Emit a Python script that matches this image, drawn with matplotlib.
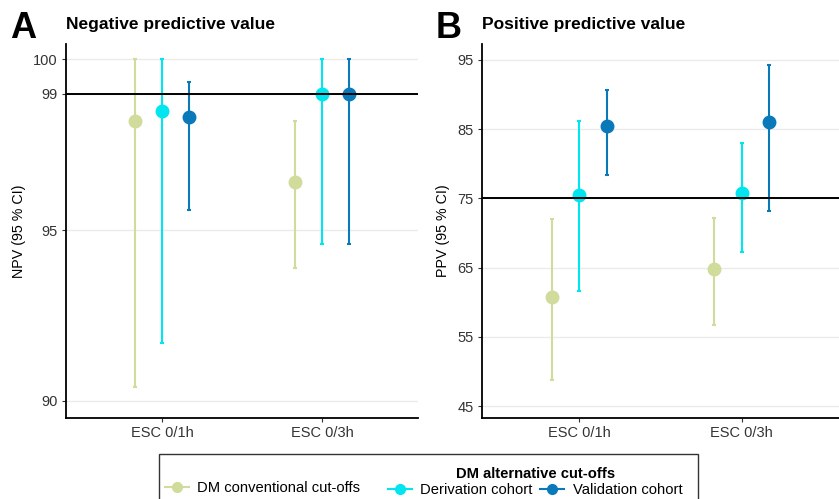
import numpy as np
import matplotlib
matplotlib.use("Agg")
import matplotlib.pyplot as plt
from matplotlib.lines import Line2D
from matplotlib.patches import Rectangle

plt.rcParams['font.family'] = ['Liberation Sans', 'DejaVu Sans']

# data
groups = ['ESC 0/1h', 'ESC 0/3h']
series = ['DM conventional cut-offs', 'Derivation cohort', 'Validation cohort']
colors = ['#cfdc9b', '#00e5f0', '#0a79ba']

npv_est = [[98.2, 96.4], [98.5, 99.0], [98.3, 99.0]]
npv_lo = [[90.4, 93.9], [91.7, 94.6], [95.6, 94.6]]
npv_hi = [[100.0, 98.2], [100.0, 100.0], [99.35, 100.0]]
npv_ticks = [90, 95, 99, 100]
npv_ref = 99

ppv_est = [[60.8, 64.8], [75.5, 75.8], [85.5, 86.1]]
ppv_lo = [[48.8, 56.8], [61.6, 67.2], [78.4, 73.2]]
ppv_hi = [[72.0, 72.2], [86.2, 83.0], [90.6, 94.2]]
ppv_ticks = [45, 55, 65, 75, 85, 95]
ppv_ref = 75

W, H = 839, 499
fig = plt.figure(figsize=(W / 100, H / 100), dpi=100)


def px(x0, y0, x1, y1):
    # pixel box -> figure fraction [left, bottom, width, height]
    return [x0 / W, 1 - y1 / H, (x1 - x0) / W, (y1 - y0) / H]


def panel(ax, est, lo, hi, ticks, ylim, ref, ylabel, title, letter, lx):
    xs = np.arange(1, len(groups) + 1)
    offs = [-0.17, 0.0, 0.17]
    for i in range(len(series)):
        e = np.array(est[i]); l = np.array(lo[i]); h = np.array(hi[i])
        ax.errorbar(xs + offs[i], e, yerr=[e - l, h - e], fmt='o', color=colors[i],
                    ms=9, elinewidth=1.5, capsize=1.6, capthick=1.5, zorder=3)
    ax.axhline(ref, color='black', lw=1.4, zorder=4)
    ax.set_xlim(0.4, 2.6)
    ax.set_ylim(*ylim)
    ax.set_xticks(xs)
    ax.set_xticklabels(groups)
    ax.set_yticks(ticks)
    ax.yaxis.grid(True, color='#ebebeb', lw=1.0)
    ax.set_axisbelow(True)
    for s in ['top', 'right']:
        ax.spines[s].set_visible(False)
    for s in ['left', 'bottom']:
        ax.spines[s].set_linewidth(1.3)
    ax.tick_params(labelsize=10.5, labelcolor='#333333', length=3, width=0.8,
                   color='#333333', pad=3)
    ax.set_ylabel(ylabel, fontsize=10.3, labelpad=5)
    ax.set_title(title, loc='left', fontsize=12.5, fontweight='bold', pad=11)
    fig.text(lx / W, 1 - 28 / H, letter, fontsize=26, fontweight='bold', va='center', ha='left')


axA = fig.add_axes(px(66, 44, 418, 418))
panel(axA, npv_est, npv_lo, npv_hi, npv_ticks, (89.5, 100.45), npv_ref,
      'NPV (95 % CI)', 'Negative predictive value', 'A', 10)

axB = fig.add_axes(px(482, 44, 839, 418))
panel(axB, ppv_est, ppv_lo, ppv_hi, ppv_ticks, (43.3, 97.3), ppv_ref,
      'PPV (95 % CI)', 'Positive predictive value', 'B', 436)

# legend: frame, conventional entry, then the titled alternative group
fig.patches.append(Rectangle((159 / W, 1 - 520 / H), (698 - 159) / W, (520 - 454) / H,
                             transform=fig.transFigure, fill=False, ec='#333333', lw=1.0))
handles = [Line2D([], [], color=c, marker='o', ms=7, lw=1.5) for c in colors]
fig.legend(handles[:1], series[:1], frameon=False, fontsize=10.6,
           loc='center left', bbox_to_anchor=(165 / W, 1 - 488 / H),
           borderpad=0, borderaxespad=0, handletextpad=0.6, handlelength=1.6)
fig.legend(handles[1:], series[1:], ncol=2, frameon=False, fontsize=10.6,
           title='DM alternative cut-offs',
           title_fontproperties={'weight': 'bold', 'size': 10.6},
           loc='lower left', bbox_to_anchor=(388 / W, 1 - 497 / H),
           borderpad=0, borderaxespad=0, handletextpad=0.6, labelspacing=0.15,
           handlelength=1.6, columnspacing=0.5)

fig.savefig('out.png', dpi=100)
